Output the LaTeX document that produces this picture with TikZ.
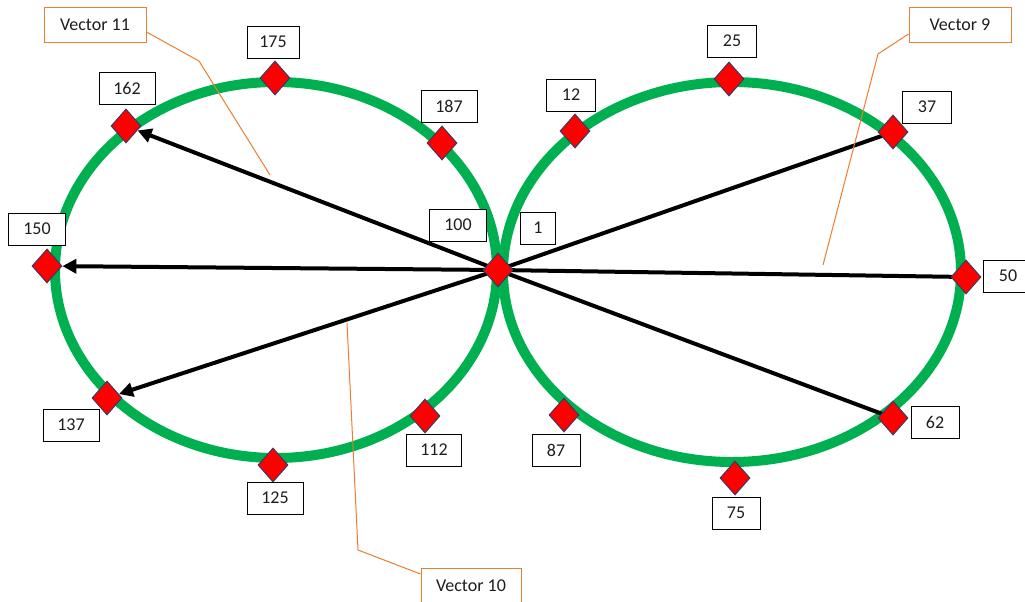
\documentclass[tikz,border=0pt]{standalone}
\usepackage{fontspec}
\setmainfont{Carlito}
\usetikzlibrary{shapes.geometric,arrows.meta,backgrounds}
\definecolor{ringgreen}{RGB}{0,176,80}
\definecolor{callout}{RGB}{237,125,49}
\definecolor{dmdedge}{RGB}{55,60,100}
\definecolor{txt}{RGB}{30,30,30}
\tikzset{
  ring/.style={draw=ringgreen, line width=10pt},
  dmd/.style={diamond, fill=red, draw=dmdedge, line width=1pt, minimum width=30pt, minimum height=34pt, inner sep=0pt},
  lbl/.style={draw=black, fill=white, line width=0.9pt, minimum height=32pt, minimum width=50pt, inner sep=0pt, text=txt, font=\fontsize{18}{20}\selectfont},
  vbox/.style={draw=callout, fill=white, line width=1pt, minimum height=35pt, minimum width=102pt, inner sep=0pt, text=txt, font=\fontsize{18}{20}\selectfont},
  vline/.style={draw=callout, line width=1pt},
  vec/.style={draw=black, line width=4pt},
  vecarrow/.style={vec, -{Triangle[length=14pt, width=14pt]}}
}
\begin{document}
\begin{tikzpicture}[x=1pt,y=-1pt]
\useasboundingbox (0,0) rectangle (1025,602);
% diamonds
\node[dmd] (c) at (498,270) {};
\node[dmd] (d175) at (275,78) {};
\node[dmd] (d162) at (126,126) {};
\node[dmd] (d187) at (442,143) {};
\node[dmd] (d150) at (47,266) {};
\node[dmd] (d137) at (107,398) {};
\node[dmd] (d125) at (273,465) {};
\node[dmd] (d112) at (425,416) {};
\node[dmd] (d12) at (575,131) {};
\node[dmd] (d25) at (729,79) {};
\node[dmd] (d37) at (893,132) {};
\node[dmd] (d50) at (966,277) {};
\node[dmd] (d62) at (893,418) {};
\node[dmd] (d75) at (735,478) {};
\node[dmd] (d87) at (564,415) {};
% labels
\node[lbl, minimum width=52pt] (l175) at (273,42) {175};
\node[lbl, minimum width=56pt] (l162) at (127,88) {162};
\node[lbl, minimum width=56pt] (l187) at (449,106) {187};
\node[lbl, minimum width=57pt] (l150) at (37,229) {150};
\node[lbl, minimum width=56pt] (l137) at (71,425) {137};
\node[lbl, minimum width=56pt] (l125) at (275,498) {125};
\node[lbl, minimum width=55pt] (l112) at (434,450) {112};
\node[lbl, minimum width=57pt] (l100) at (458,225) {100};
\node[lbl, minimum width=35pt] (l1) at (538,228) {1};
\node[lbl, minimum width=49pt] (l12) at (571,95) {12};
\node[lbl, minimum width=49pt] (l25) at (732,41) {25};
\node[lbl, minimum width=49pt] (l37) at (927,107) {37};
\node[lbl, minimum width=50pt, text width=42pt, align=center] (l50) at (1008,276) {50};
\node[lbl, minimum width=48pt] (l62) at (935,422) {62};
\node[lbl, minimum width=48pt] (l75) at (736,513) {75};
\node[lbl, minimum width=48pt] (l87) at (556,450) {87};
% callout boxes
\node[vbox] (v11) at (95,25) {Vector 11};
\node[vbox] (v9) at (960,25) {Vector 9};
\node[vbox, minimum width=100pt] (v10) at (471,586) {Vector 10};
\coordinate (e11) at (270,175);
\coordinate (e9) at (823,265);
\coordinate (e10) at (347,323);
\begin{pgfonlayer}{background}
  \draw[ring] (276,270) ellipse [x radius=221, y radius=188];
  \draw[ring] (732,272) ellipse [x radius=229, y radius=190];
  \draw[vecarrow] (c.center) -- (d162);
  \draw[vecarrow] (c.center) -- (d150);
  \draw[vecarrow] (c.center) -- (d137);
  \draw[vec] (c.center) -- (d37.center);
  \draw[vec] (c.center) -- (d50.center);
  \draw[vec] (c.center) -- (d62.center);
  \draw[vline] (v11.east) ++(0,7) -- (199,61) -- (e11);
  \draw[vline] (v9.west) ++(0,9) -- (878,54) -- (e9);
  \draw[vline] (v10.west) ++(0,-12) -- (358,550) -- (e10);
\end{pgfonlayer}
\end{tikzpicture}
\end{document}
